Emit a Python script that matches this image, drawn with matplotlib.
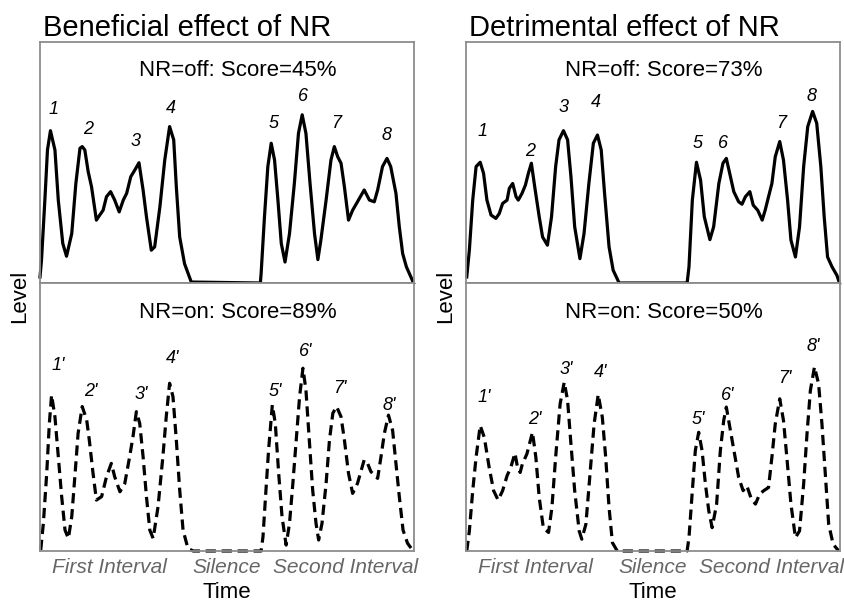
import numpy as np
import matplotlib.pyplot as plt

plt.rcParams['font.family'] = ['Liberation Sans', 'DejaVu Sans']

# time runs 0..100 across a panel, level 0..100 inside each box

# beneficial effect, NR off
ben_off_t = [0, 0.4, 1.3, 2.0, 2.8, 4.0, 4.9, 6.1, 7.1, 8.5, 9.6, 10.7, 11.3, 12.0, 12.9, 13.8,
             15.1, 16.0, 16.9, 17.8, 18.9, 20.0, 21.2, 22.3, 23.2, 24.3, 25.4, 26.5, 27.6, 28.5,
             29.8, 30.7, 32.1, 33.4, 34.7, 35.8, 36.5, 37.4, 38.7, 40.5, 59.0, 59.2, 60.1, 61.0,
             61.9, 62.8, 63.7, 64.6, 65.6, 66.8, 68.1, 69.2, 70.2, 71.2, 72.3, 73.5, 74.4, 75.2,
             76.6, 77.9, 78.8, 79.7, 80.6, 81.5, 82.6, 83.7, 85.0, 86.8, 88.2, 89.5, 90.4, 91.7,
             92.9, 93.9, 95.3, 96.2, 97.1, 98.1, 99.3, 100]
ben_off_lvl = [2.5, 9.4, 34.3, 55.2, 63.2, 55.2, 34.3, 16.4, 11.1, 20.5, 41.3, 55.9, 56.6, 55.2, 46.2, 39.9,
               26.1, 28.2, 30.2, 35.8, 37.9, 34.4, 29.5, 34.4, 37.2, 44.1, 46.9, 49.9, 38.6, 27.5,
               13.6, 15.0, 31.6, 51.0, 64.9, 59.4, 39.9, 19.1, 8.0, 0.4, 0, 3.9, 27.5, 48.3,
               58.0, 51.0, 34.4, 16.4, 8.7, 20.5, 41.3, 62.1, 69.8, 62.1, 41.3, 20.5, 9.7, 17.8,
               34.4, 51.0, 56.6, 52.4, 49.7, 39.9, 26.1, 30.2, 33.7, 38.6, 34.4, 33.7, 38.6, 48.3,
               51.7, 48.3, 37.2, 23.3, 12.2, 6.7, 2.5, 0]
ben_off_peaks = [2.8, 11.3, 26.5, 34.7, 61.9, 70.2, 78.8, 92.9]

# beneficial effect, NR on
ben_on_t = [0.2, 0.9, 1.8, 2.5, 3.1, 4.0, 4.9, 5.8, 6.7, 7.6, 8.5, 9.4, 10.2, 11.3, 12.5, 13.2,
            14.2, 15.1, 16.5, 17.8, 19.1, 20.0, 21.4, 22.7, 24.0, 24.9, 25.8, 26.7, 27.6, 28.5,
            29.4, 30.3, 31.6, 32.9, 33.8, 34.7, 35.6, 36.5, 37.4, 38.3, 39.6, 41.0, 59.2, 59.7,
            60.5, 61.2, 62.2, 63.0, 63.9, 64.8, 65.9, 66.8, 67.7, 68.6, 69.5, 70.4, 71.2, 72.1,
            73.0, 73.9, 74.6, 75.5, 76.6, 77.5, 78.4, 79.4, 80.6, 81.5, 82.6, 83.7, 85.0, 86.8,
            87.7, 88.6, 90.4, 91.3, 92.2, 93.3, 94.4, 95.3, 96.2, 97.2, 98.4, 99.7]
ben_on_lvl = [0.4, 10.3, 29.0, 47.6, 58.2, 50.1, 35.2, 20.3, 7.8, 4.7, 12.8, 29.0, 43.9, 53.9, 48.9, 41.4,
              29.0, 19.0, 20.3, 27.7, 32.7, 27.7, 22.1, 25.2, 35.2, 42.7, 52.0, 47.6, 35.2, 20.3,
              7.8, 4.7, 16.5, 35.2, 50.1, 62.6, 57.6, 41.4, 22.8, 7.8, 1.0, 0, 0, 5.3,
              22.8, 37.7, 54.5, 47.6, 29.0, 12.8, 2.2, 10.3, 25.2, 41.4, 57.6, 68.2, 60.1, 41.4,
              22.8, 10.3, 4.1, 10.3, 25.2, 41.4, 51.4, 53.9, 50.1, 41.4, 29.0, 21.5, 25.2, 34.0,
              32.7, 29.6, 27.1, 35.2, 43.9, 50.7, 45.1, 32.7, 20.3, 7.8, 2.9, 0.4]
ben_on_peaks = [3.1, 11.3, 25.8, 34.7, 62.2, 70.4, 79.4, 93.3]

# detrimental effect, NR off
det_off_t = [0.2, 0.9, 1.8, 2.7, 3.8, 4.7, 5.6, 6.7, 8.0, 8.9, 9.8, 11.0, 11.6, 12.5, 13.4, 14.0,
             15.0, 15.9, 16.7, 17.5, 18.4, 19.6, 20.5, 21.8, 22.9, 24.0, 24.9, 26.1, 27.2, 28.1,
             29.1, 30.5, 31.6, 32.9, 34.1, 35.2, 36.2, 37.1, 38.3, 39.4, 41.0, 59.2, 59.7, 60.6,
             61.7, 62.8, 63.8, 65.3, 66.3, 67.7, 68.8, 69.7, 70.6, 71.7, 73.0, 73.9, 74.8, 76.0,
             76.9, 78.1, 79.3, 80.1, 81.0, 81.9, 82.8, 84.0, 85.0, 86.1, 87.0, 88.2, 89.3, 90.4,
             91.5, 92.8, 93.9, 95.0, 95.9, 96.8, 98.0, 99.3, 100]
det_off_lvl = [2.5, 13.6, 34.4, 48.3, 50.1, 45.5, 34.4, 28.2, 26.8, 28.8, 33.0, 34.4, 39.3, 41.3, 35.8, 34.4,
               37.2, 40.6, 45.5, 49.7, 39.9, 27.5, 19.1, 15.7, 27.5, 48.3, 59.4, 63.2, 59.4, 44.1,
               23.3, 10.1, 20.5, 41.3, 58.0, 61.4, 55.2, 37.2, 15.0, 5.3, 0, 0, 6.7, 34.4,
               50.1, 42.7, 27.5, 18.0, 23.3, 41.3, 49.7, 51.7, 45.5, 37.9, 33.7, 32.7, 35.8, 37.9,
               32.3, 30.2, 26.1, 30.2, 35.8, 41.3, 52.4, 58.7, 51.0, 34.4, 17.8, 10.8, 23.3, 48.3,
               64.9, 71.2, 66.3, 48.3, 27.5, 10.8, 6.7, 3.2, 0]
det_off_peaks = [3.8, 17.5, 26.1, 35.2, 61.7, 69.7, 84.0, 92.8]

# detrimental effect, NR on
det_on_t = [0.2, 0.9, 1.8, 2.7, 3.8, 4.9, 6.2, 7.4, 8.6, 9.8, 11.0, 12.0, 13.1, 13.8, 14.5, 15.1,
            16.3, 17.8, 18.7, 19.6, 20.7, 22.1, 23.0, 24.0, 25.2, 26.3, 27.2, 28.1, 29.1, 30.3,
            31.0, 32.1, 33.2, 34.3, 35.4, 36.5, 37.4, 38.3, 39.2, 40.5, 59.2, 59.7, 60.6, 61.4,
            62.3, 63.2, 64.1, 65.0, 65.9, 67.1, 68.1, 69.0, 69.7, 70.8, 71.9, 73.0, 74.2, 75.2,
            76.4, 77.5, 78.6, 79.7, 81.0, 81.9, 82.8, 84.0, 85.0, 85.9, 87.0, 88.2, 89.3, 90.4,
            91.3, 92.2, 93.3, 94.4, 95.3, 96.2, 97.1, 98.3, 99.8]
det_on_lvl = [0, 7.5, 22.5, 35.0, 46.8, 42.4, 31.2, 22.5, 19.0, 22.5, 28.1, 31.2, 36.5, 31.2, 29.3, 32.5,
              36.2, 44.3, 35.0, 20.0, 8.7, 6.9, 16.2, 35.0, 54.9, 63.0, 56.2, 39.9, 22.5, 7.5,
              4.4, 10.0, 28.7, 47.4, 58.4, 49.9, 35.0, 16.2, 3.1, 0, 0, 5.0, 22.5, 37.5,
              44.3, 37.5, 25.0, 15.0, 8.7, 17.5, 37.5, 48.7, 53.7, 44.9, 36.2, 27.5, 22.5, 24.3,
              19.4, 17.5, 21.2, 22.5, 23.7, 35.0, 47.4, 56.8, 48.7, 35.0, 17.5, 5.0, 7.5, 25.0,
              43.7, 59.9, 68.7, 62.4, 47.4, 28.7, 10.0, 2.5, 0]
det_on_peaks = [3.8, 17.8, 26.3, 35.4, 62.3, 69.7, 84.0, 93.3]

off_labels = ['1', '2', '3', '4', '5', '6', '7', '8']
on_labels = ["1'", "2'", "3'", "4'", "5'", "6'", "7'", "8'"]

titles = ['Beneficial effect of NR', 'Detrimental effect of NR']
off_scores = [45, 73]
on_scores = [89, 50]
interval_names = ['First Interval', 'Silence', 'Second Interval']
interval_pos = [18.5, 50, 81.8]

# label offsets in pixels from each peak
off_shift = [
    [(3, 21), (6, 17), (-3, 21), (1, 18), (2, 20), (1, 18), (2, 23), (0, 23)],
    [(2, 31), (-1, 12), (0, 23), (-2, 33), (1, 19), (-3, 15), (1, 18), (-1, 15)],
]
on_shift = [
    [(7, 30), (9, 15), (5, 17), (3, 25), (3, 13), (3, 17), (3, 18), (1, 10)],
    [(4, 28), (2, 13), (2, 13), (2, 22), (0, 13), (1, 12), (5, 20), (-1, 20)],
]

FRAME = '#8c8c8c'


def func_style_box(ax):
    ax.set_xlim(0, 100)
    ax.set_ylim(0, 100)
    ax.set_yticks([])
    for side in ax.spines.values():
        side.set_color(FRAME)
        side.set_linewidth(1.3)


def func_plot_curve(ax, t, lvl, peaks, labels, shifts, dashed):
    ls = (0, (3.2, 1.8)) if dashed else '-'
    ax.plot(t, lvl, color='black', lw=2.3, ls=ls, clip_on=False,
            solid_joinstyle='round', dash_joinstyle='round')
    peak_lvl = np.interp(peaks, t, lvl)
    for name, pt, pl, (dx, dy) in zip(labels, peaks, peak_lvl, shifts):
        ax.annotate(name, xy=(pt, pl), xytext=(dx, dy), textcoords='offset pixels',
                    ha='center', va='center', fontsize=13, style='italic')


fig = plt.figure(figsize=(8.44, 6.03), dpi=100)

panels = [
    (ben_off_t, ben_off_lvl, ben_off_peaks, ben_on_t, ben_on_lvl, ben_on_peaks),
    (det_off_t, det_off_lvl, det_off_peaks, det_on_t, det_on_lvl, det_on_peaks),
]
lefts = [40 / 844, 466 / 844]
width = 373.5 / 844

for i, (t1, l1, p1, t2, l2, p2) in enumerate(panels):
    ax_top = fig.add_axes([lefts[i], 1 - 283 / 603, width, 241 / 603])
    ax_bot = fig.add_axes([lefts[i], 1 - 551 / 603, width, 268 / 603])

    func_style_box(ax_top)
    ax_top.set_xticks([])
    ax_top.spines['bottom'].set_color('#6a6a6a')
    func_plot_curve(ax_top, t1, l1, p1, off_labels, off_shift[i], False)
    ax_top.text(0.53, 0.88, f'NR=off: Score={off_scores[i]}%', transform=ax_top.transAxes,
                ha='center', va='center', fontsize=16)

    func_style_box(ax_bot)
    func_plot_curve(ax_bot, t2, l2, p2, on_labels, on_shift[i], True)
    ax_bot.text(0.53, 0.89, f'NR=on: Score={on_scores[i]}%', transform=ax_bot.transAxes,
                ha='center', va='center', fontsize=16)
    ax_bot.set_xticks(interval_pos)
    ax_bot.set_xticklabels(interval_names, fontsize=15, style='italic', color='#666666')
    ax_bot.tick_params(axis='x', length=0, pad=5)
    ax_bot.set_xlabel('Time', fontsize=16, labelpad=4)

    fig.text(lefts[i] + 3 / 844, 1 - 36 / 603, titles[i], fontsize=21, ha='left', va='baseline')
    fig.text(lefts[i] - 20 / 844, 1 - 296 / 603, 'Level', rotation=90, fontsize=16,
             ha='center', va='center')

fig.savefig('out.png', dpi=100)
